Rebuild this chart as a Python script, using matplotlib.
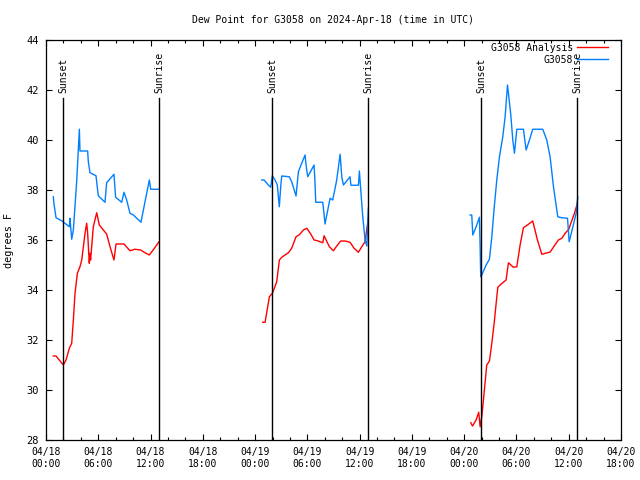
import numpy as np
import matplotlib
matplotlib.use("Agg")
import matplotlib.pyplot as plt

nan = np.nan
# hours since 2024-04-18 00:00 UTC; NaN separates data gaps
analysis_hours = [0.84, 1.15, 1.99, 2.3, 2.68, 2.95, 3.14, 3.33, 3.6, 3.9, 4.1, 4.29, 4.48, 4.67, 4.78, 4.97, 5.05, 5.12,
                  5.43, 5.82, 6.12, 6.58, 6.96, 7.35, 7.8, 8.04, 8.95, 9.64, 10.2, 10.87, 11.36, 11.86, 12.3, 12.97,
                  nan,
                  24.88, 25.15, 25.64, 25.99, 26.48, 26.79, 27.06, 27.44, 27.82, 28.2, 28.7, 29.08, 29.55, 29.93,
                  30.39, 30.77, 31.16, 31.77, 31.92, 32.15, 32.53, 32.99, 33.37, 33.83, 34.33, 34.9, 35.36, 35.86,
                  36.24, 36.62, 37.0,
                  nan,
                  48.76, 48.95, 49.37, 49.67, 49.83, 50.02, 50.21, 50.59, 50.9, 51.17, 51.44, 51.67, 51.86, 52.12,
                  52.81, 53.08, 53.65, 54.04, 54.42, 54.8, 55.26, 55.87, 56.41, 56.91, 57.87, 58.33, 58.82, 59.21,
                  59.59, 60.01, 60.24, 60.62, 61.0]
analysis_vals = [31.36, 31.36, 31.0, 31.2, 31.67, 31.87, 32.8, 33.87, 34.67, 34.93, 35.2, 35.73, 36.27, 36.67, 36.27, 35.07, 35.47, 35.2,
                 36.53, 37.09, 36.6, 36.4, 36.24, 35.73, 35.2, 35.84, 35.84, 35.57, 35.63, 35.6, 35.49, 35.4, 35.6, 35.93,
                 nan,
                 32.71, 32.71, 33.73, 33.87, 34.33, 35.2, 35.31, 35.4, 35.49, 35.67, 36.13, 36.21, 36.4, 36.47,
                 36.24, 36.0, 35.97, 35.89, 36.17, 36.0, 35.73, 35.57, 35.76, 35.96, 35.96, 35.91, 35.67, 35.51,
                 35.73, 35.93, 36.87,
                 nan,
                 28.69, 28.56, 28.8, 29.11, 28.53, 28.93, 29.6, 31.0, 31.16, 31.87, 32.67, 33.47, 34.11, 34.2,
                 34.4, 35.09, 34.91, 34.93, 35.8, 36.49, 36.6, 36.76, 36.0, 35.43, 35.52, 35.76, 36.0, 36.07,
                 36.27, 36.43, 36.67, 37.03, 37.47]

obs_hours = [0.84, 0.9, 1.15, 1.8, 2.68, 2.75, 2.95, 3.14, 3.52, 3.83, 3.9, 4.78, 4.86, 5.05, 5.74, 6.0, 6.77, 6.96,
             7.8, 7.99, 8.69, 8.95, 9.26, 9.64, 10.03, 10.9, 11.48, 11.86, 12.02, 12.97,
             nan,
             24.76, 25.03, 25.52, 25.79, 25.98, 26.29, 26.55, 26.78, 26.94, 27.06, 27.93, 28.2, 28.7, 28.97,
             29.35, 29.74, 29.85, 30.04, 30.77, 30.88, 30.96, 31.77, 32.03, 32.3, 32.61, 32.91, 33.37, 33.76,
             33.95, 34.14, 34.9, 35.0, 35.86, 35.97, 36.13, 36.36, 36.62, 36.82, 37.0,
             nan,
             48.68, 48.87, 48.99, 49.37, 49.75, 49.83, 49.9, 50.02, 50.52, 50.9, 51.17, 51.44, 51.74, 52.05,
             52.43, 52.7, 52.97, 53.08, 53.35, 53.58, 53.77, 54.04, 54.8, 55.11, 55.49, 55.87, 57.02, 57.48,
             57.86, 58.25, 58.74, 59.21, 59.86, 60.05, 60.39, 60.85, 61.04]
obs_vals = [37.73, 37.49, 36.89, 36.77, 36.53, 36.87, 36.03, 36.4, 38.33, 40.43, 39.56, 39.56, 39.13, 38.69, 38.57, 37.77, 37.51, 38.29,
            38.63, 37.71, 37.51, 37.91, 37.6, 37.07, 37.0, 36.71, 37.73, 38.4, 38.03, 38.03,
            nan,
            38.4, 38.4, 38.2, 38.11, 38.57, 38.4, 38.2, 37.33, 38.13, 38.56, 38.53, 38.33, 37.76, 38.73,
            39.07, 39.4, 39.0, 38.53, 39.0, 38.27, 37.51, 37.51, 36.64, 37.13, 37.67, 37.6, 38.4, 39.43,
            38.53, 38.2, 38.53, 38.19, 38.19, 38.76, 38.0, 36.93, 36.0, 35.76, 37.27,
            nan,
            37.0, 37.0, 36.2, 36.53, 36.91, 35.73, 34.53, 34.6, 35.0, 35.23, 36.13, 37.27, 38.4, 39.33,
            40.13, 40.93, 42.2, 41.87, 41.0, 40.0, 39.47, 40.43, 40.43, 39.6, 40.0, 40.43, 40.43, 40.0,
            39.33, 38.13, 36.93, 36.89, 36.87, 35.93, 36.4, 37.07, 37.73]

sunset_hours = [1.95, 25.95, 49.94]
sunrise_hours = [12.97, 36.97, 60.96]

xtick_hours = list(range(0, 67, 6))
xtick_labels = ["04/18\n00:00", "04/18\n06:00", "04/18\n12:00", "04/18\n18:00",
                "04/19\n00:00", "04/19\n06:00", "04/19\n12:00", "04/19\n18:00",
                "04/20\n00:00", "04/20\n06:00", "04/20\n12:00", "04/20\n18:00"]
yticks = list(range(28, 45, 2))

FONT = "DejaVu Sans Mono"
FS = 7.0

fig = plt.figure(figsize=(6.4, 4.8), dpi=100)
ax = fig.add_axes([46/640, 40/480, 575/640, 400/480])

ax.plot(analysis_hours, analysis_vals, color="#ff0000", lw=1.0, label="G3058 Analysis")
ax.plot(obs_hours, obs_vals, color="#0080ff", lw=1.0, label="G3058")

for h in sunset_hours:
    ax.plot([h, h], [28, 41.68], color="black", lw=1.0)
    ax.text(h, 41.9, "Sunset", rotation=90, ha="center", va="bottom", fontsize=FS, family=FONT)
for h in sunrise_hours:
    ax.plot([h, h], [28, 41.68], color="black", lw=1.0)
    ax.text(h, 41.9, "Sunrise", rotation=90, ha="center", va="bottom", fontsize=FS, family=FONT)

ax.set_xlim(0, 66)
ax.set_ylim(28, 44)
ax.set_xticks(xtick_hours)
ax.set_xticklabels(xtick_labels, fontsize=FS, family=FONT)
ax.set_xticks(list(range(0, 67, 2)), minor=True)
ax.set_yticks(yticks)
ax.set_yticklabels([str(v) for v in yticks], fontsize=FS + 0.5, family=FONT)
ax.tick_params(which="both", direction="in", top=True, right=True, width=0.8)
ax.tick_params(which="major", length=4.5, pad=5)
ax.tick_params(which="minor", length=2.5)
for s in ax.spines.values():
    s.set_linewidth(0.9)

ax.set_ylabel("degrees F", fontsize=FS + 0.3, family=FONT, labelpad=9)
fig.text(333/640, 1 - 20/480, "Dew Point for G3058 on 2024-Apr-18 (time in UTC)",
         ha="center", va="center", fontsize=FS, family=FONT)

leg = ax.legend(loc="upper right", bbox_to_anchor=(1 - 7/575, 1 + 3/400), frameon=False, markerfirst=False,
                prop={"family": FONT, "size": FS},
                handlelength=3.2, handletextpad=0.4, labelspacing=0.2, borderaxespad=0.2)

fig.savefig("out.png", dpi=100)
